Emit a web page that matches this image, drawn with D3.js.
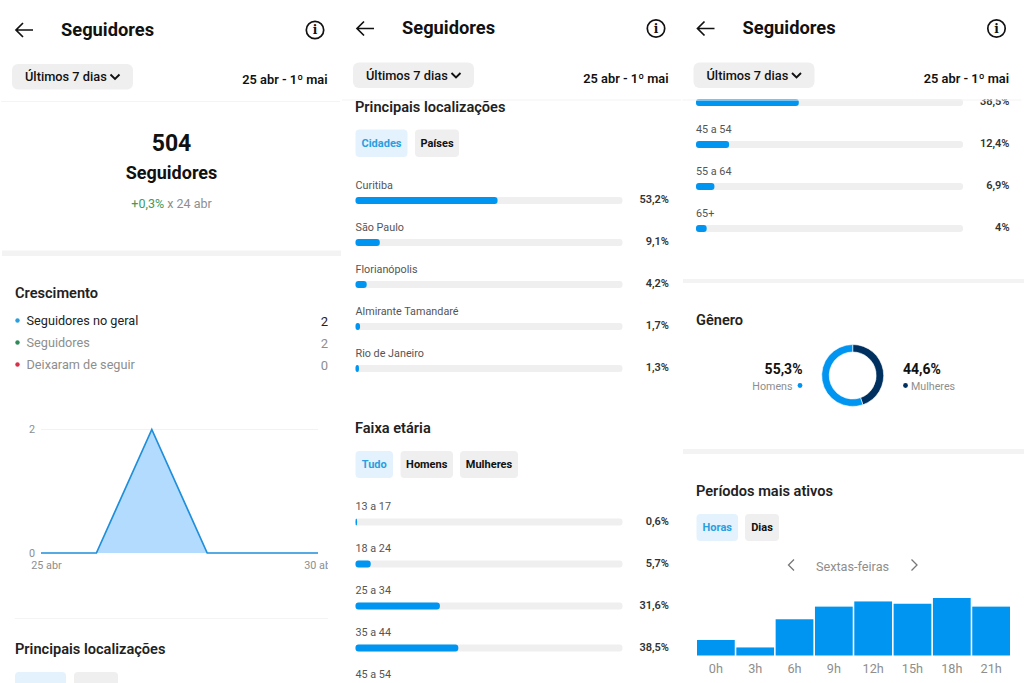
<!DOCTYPE html>
<html>
<head>
<meta charset="utf-8">
<script src="https://cdn.jsdelivr.net/npm/d3@7"></script>
<style>
  html, body { margin: 0; background: #fff; }
  svg { display: block; font-family: Roboto, sans-serif; }
</style>
</head>
<body>
<svg id="chart" width="1024" height="683"></svg>
<script>
const growthLabels = ['Seguidores no geral', 'Seguidores', 'Deixaram de seguir'];
const growthValues = [2, 2, 0];
const growthDays = [25, 26, 27, 28, 29, 30];
const growthSeries = [0, 0, 2, 0, 0, 0];

const cities = ['Curitiba', 'São Paulo', 'Florianópolis', 'Almirante Tamandaré', 'Rio de Janeiro'];
const cityValues = [53.2, 9.1, 4.2, 1.7, 1.3];

const ages = ['13 a 17', '18 a 24', '25 a 34', '35 a 44', '45 a 54', '55 a 64', '65+'];
const ageValues = [0.6, 5.7, 31.6, 38.5, 12.4, 6.9, 4];

const genders = ['Mulheres', 'Homens'];
const genderValues = [44.6, 55.3];

const hours = ['0h', '3h', '6h', '9h', '12h', '15h', '18h', '21h'];
const hourValues = [27, 14, 63, 85, 94, 90, 100, 85];

const BLUE = '#0095f0', NAVY = '#00305f', TRACK = '#efefef', GREY = '#8e8e8e', INK = '#111';
const fmt = v => String(v).replace('.', ',') + '%';

const svg = d3.select('#chart');
const defs = svg.append('defs');
const clip = (id, x, y, w, h) => defs.append('clipPath').attr('id', id)
  .append('rect').attr('x', x).attr('y', y).attr('width', w).attr('height', h);
clip('clip1', 0, 0, 328, 683);
clip('clip2', 341, 99, 341, 584);
clip('clip3', 683, 99, 341, 584);

function txt(g, x, y, s, size, weight, fill, anchor) {
  return g.append('text').attr('x', x).attr('y', y).attr('dy', '.35em')
    .attr('font-size', size).attr('font-weight', weight).attr('fill', fill)
    .attr('text-anchor', anchor || 'start').text(s);
}
function box(g, x0, x1, y0, y1, fill, r) {
  return g.append('rect').attr('x', x0).attr('y', y0)
    .attr('width', x1 - x0).attr('height', y1 - y0).attr('rx', r || 0).attr('fill', fill);
}
function chip(g, x0, x1, y0, y1, label, active) {
  box(g, x0, x1, y0, y1, active ? '#e3f2fd' : TRACK, 4);
  if (label) txt(g, (x0 + x1) / 2, (y0 + y1) / 2, label, 11, 700, active ? '#2a9fe0' : INK, 'middle');
}
function header(x0, y) {
  const g = svg.append('g');
  g.append('path').attr('d', `M${x0 + 33} ${y}H${x0 + 16}M${x0 + 23} ${y - 7}L${x0 + 16} ${y}L${x0 + 23} ${y + 7}`)
    .attr('fill', 'none').attr('stroke', INK).attr('stroke-width', 1.7);
  txt(g, x0 + 61, y - 0.5, 'Seguidores', 18.3, 700, INK);
  g.append('circle').attr('cx', x0 + 315).attr('cy', y).attr('r', 8.7)
    .attr('fill', 'none').attr('stroke', INK).attr('stroke-width', 1.7);
  txt(g, x0 + 315, y, 'i', 12, 700, INK, 'middle').attr('font-family', 'DejaVu Serif');
  box(g, x0 + 12, x0 + 133, y + 34, y + 59.5, '#efefef', 6);
  txt(g, x0 + 25, y + 47, 'Últimos 7 dias', 12.8, 500, INK);
  g.append('path').attr('d', `M${x0 + 110.5} ${y + 44.5}l4.5 4.5l4.5 -4.5`)
    .attr('fill', 'none').attr('stroke', INK).attr('stroke-width', 1.9);
  txt(g, x0 + 327.5, y + 50, '25 abr - 1º mai', 12.8, 600, INK, 'end');
  box(g, x0 + 1, x0 + 340, y + 71, y + 72, '#f4f4f4');
}

// bar rows share one scale, the track is the 100% length
const barLen = d3.scaleLinear().domain([0, 100]).range([0, 267]);
function barRows(g, names, values, x0, yLabel) {
  names.forEach((name, i) => {
    const y = yLabel + i * 42;
    // a name scrolled under the header is not visible at all
    if (y > 99) txt(g, x0, y, name, 10.8, 400, '#555');
    // same for what runs off the bottom of the screen
    if (y + 12 > 683) return;
    box(g, x0, x0 + barLen(100), y + 12, y + 19, TRACK, 3);
    box(g, x0, x0 + barLen(values[i]), y + 12, y + 19, BLUE, 3);
    txt(g, x0 + 313.5, y + 14.5, fmt(values[i]), 11, 600, '#333', 'end');
  });
}

// panel 1
const p1 = svg.append('g');
header(0, 30);
txt(p1, 171.5, 143, '504', 23, 700, INK, 'middle');
txt(p1, 171.5, 173, 'Seguidores', 18, 700, INK, 'middle');
const delta = txt(p1, 171.5, 203.5, '', 12.5, 400, GREY, 'middle');
delta.append('tspan').attr('fill', '#3d9b5c').text('+0,3%');
delta.append('tspan').text(' x 24 abr');
box(p1, 2, 341, 250.5, 256, '#f3f3f3');

txt(p1, 15, 293, 'Crescimento', 14.6, 600, '#222');
const dotColors = ['#2a9fe0', '#2e8b57', '#d8304a'];
growthLabels.forEach((name, i) => {
  const y = 321 + i * 22;
  p1.append('circle').attr('cx', 17.5).attr('cy', y - 0.5).attr('r', 2.2).attr('fill', dotColors[i]);
  txt(p1, 26.5, y, name, 12.7, 400, i ? GREY : '#222');
  txt(p1, 328, y, growthValues[i], 13, 400, i ? GREY : '#222', 'end');
});

const xDay = d3.scaleLinear().domain([25, 30]).range([41, 318]);
const yCount = d3.scaleLinear().domain([0, 2]).range([553, 429.5]);
p1.append('line').attr('x1', 41).attr('x2', 318).attr('y1', yCount(2)).attr('y2', yCount(2))
  .attr('stroke', '#f2f2f2');
const points = growthDays.map((d, i) => [d, growthSeries[i]]);
p1.append('path').datum(points).attr('fill', '#b3dbfd')
  .attr('d', d3.area().x(d => xDay(d[0])).y0(yCount(0)).y1(d => yCount(d[1])));
p1.append('path').datum(points).attr('fill', 'none').attr('stroke', '#1f8fdc').attr('stroke-width', 1.7)
  .attr('d', d3.line().x(d => xDay(d[0])).y(d => yCount(d[1])));
const yAxis1 = p1.append('g').attr('transform', 'translate(35,0)')
  .call(d3.axisLeft(yCount).tickValues([0, 2]).tickFormat(d3.format('d')).tickSize(0).tickPadding(0));
const xAxis1 = p1.append('g').attr('clip-path', 'url(#clip1)')
  .append('g').attr('transform', 'translate(5,560)')
  .call(d3.axisBottom(xDay).tickValues([25, 30]).tickFormat(d => d + ' abr').tickSize(0).tickPadding(1));
[yAxis1, xAxis1].forEach(a => {
  a.select('.domain').remove();
  a.selectAll('text').attr('font-family', 'Roboto, sans-serif').attr('font-size', 10.8).attr('fill', GREY);
});
// last date label sits a little further left than its tick
xAxis1.selectAll('text').filter(d => d === 30).attr('dx', -4);

box(p1, 15, 328, 618, 619, '#f4f4f4');
txt(p1, 15, 649, 'Principais localizações', 14.6, 600, '#222');
chip(p1, 15, 66, 672, 690, '', true);
chip(p1, 74, 118, 672, 690, '', false);

// panel 2
const p2 = svg.append('g').attr('clip-path', 'url(#clip2)');
header(341, 28.5);
txt(p2, 355, 107, 'Principais localizações', 14.6, 600, '#222');
chip(p2, 355.5, 407.5, 129.5, 157, 'Cidades', true);
chip(p2, 415, 459, 129.5, 157, 'Países', false);
barRows(p2, cities, cityValues, 355.5, 185);
txt(p2, 355, 428, 'Faixa etária', 14.6, 600, '#222');
chip(p2, 355.5, 393, 451, 478, 'Tudo', true);
chip(p2, 400.5, 453, 451, 478, 'Homens', false);
chip(p2, 460, 518, 451, 478, 'Mulheres', false);
barRows(p2, ages.slice(0, 5), ageValues.slice(0, 5), 355.5, 506.5);

// panel 3, same age rows scrolled up, starting from the one cut by the header
const p3 = svg.append('g').attr('clip-path', 'url(#clip3)');
header(681.5, 28.5);
barRows(p3, ages.slice(3), ageValues.slice(3), 696, 87);
box(p3, 683, 1024, 279, 283, '#f3f3f3');

txt(p3, 696, 320, 'Gênero', 14.6, 600, '#222');
const pie = d3.pie().sort(null)(genderValues);
const arc = d3.arc().innerRadius(23.5).outerRadius(31);
p3.append('g').attr('transform', 'translate(852.7,375.5)')
  .selectAll('path').data(pie).enter().append('path')
  .attr('d', arc).attr('fill', (d, i) => i ? BLUE : NAVY)
  .attr('stroke', '#fff').attr('stroke-width', 0.6);
txt(p3, 802.5, 369, fmt(genderValues[1]), 14, 700, INK, 'end');
txt(p3, 792.5, 386, genders[1], 10.7, 400, GREY, 'end');
p3.append('circle').attr('cx', 800).attr('cy', 385.5).attr('r', 2.4).attr('fill', BLUE);
txt(p3, 903, 369, fmt(genderValues[0]), 14, 700, INK);
p3.append('circle').attr('cx', 905.5).attr('cy', 385.5).attr('r', 2.4).attr('fill', NAVY);
txt(p3, 911, 386, genders[0], 10.7, 400, GREY);
box(p3, 683, 1024, 449, 454, '#f3f3f3');

txt(p3, 696, 491, 'Períodos mais ativos', 14.6, 600, '#222');
chip(p3, 696.5, 738, 514, 541, 'Horas', true);
chip(p3, 745, 779, 514, 541, 'Dias', false);
txt(p3, 852.5, 566.5, 'Sextas-feiras', 12.7, 400, GREY, 'middle');
['M794 559.5L788.5 565L794 570.5', 'M911.5 559.5L917 565L911.5 570.5'].forEach(d => {
  p3.append('path').attr('d', d).attr('fill', 'none').attr('stroke', '#777').attr('stroke-width', 1.3);
});

const xHour = d3.scaleBand().domain(hours).range([697, 1010]).paddingInner(0.04);
const yHour = d3.scaleLinear().domain([0, 100]).range([655.5, 598]);
p3.selectAll('.hour').data(hours).enter().append('rect').attr('class', 'hour')
  .attr('x', d => xHour(d)).attr('width', xHour.bandwidth())
  .attr('y', (d, i) => yHour(hourValues[i]))
  .attr('height', (d, i) => yHour(0) - yHour(hourValues[i]))
  .attr('fill', BLUE);
const xAxis3 = p3.append('g').attr('transform', 'translate(0,664)')
  .call(d3.axisBottom(xHour).tickSize(0).tickPadding(0));
xAxis3.select('.domain').remove();
xAxis3.selectAll('text').attr('font-family', 'Roboto, sans-serif').attr('font-size', 12.7).attr('fill', GREY);
</script>
</body>
</html>
